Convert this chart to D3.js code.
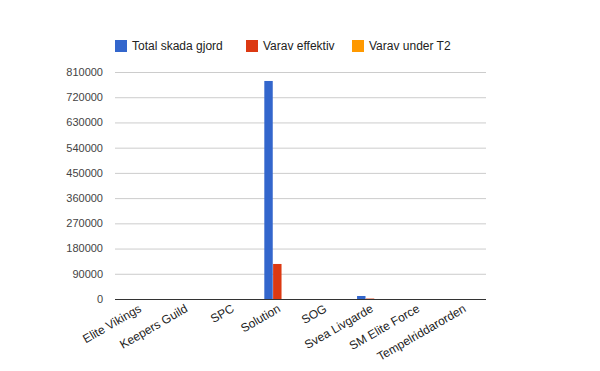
<!DOCTYPE html>
<html>
<head>
<meta charset="utf-8">
<script src="https://cdn.jsdelivr.net/npm/d3@7"></script>
<style>
  body { margin: 0; background: #fff; }
  svg { display: block; font-family: Arial, "Liberation Sans", sans-serif; }
</style>
</head>
<body>
<div id="chart"></div>
<script>
const guilds = ['Elite Vikings', 'Keepers Guild', 'SPC', 'Solution', 'SOG', 'Svea Livgarde', 'SM Elite Force', 'Tempelriddarorden'];
const seriesNames = ['Total skada gjord', 'Varav effektiv', 'Varav under T2'];
const totalDamage = [0, 0, 0, 778000, 0, 10700, 0, 0];
const effectiveDamage = [0, 0, 0, 125000, 0, 1500, 0, 0];
const underT2Damage = [0, 0, 0, 0, 0, 0, 0, 0];
const yTicks = [0, 90000, 180000, 270000, 360000, 450000, 540000, 630000, 720000, 810000];
const colors = ['#3366cc', '#dc3912', '#ff9900'];

const width = 600;
const height = 371;
const plot = { left: 115, right: 486, top: 72, bottom: 299 };

const svg = d3.select('#chart').append('svg')
  .attr('width', width)
  .attr('height', height);

const x = d3.scaleBand()
  .domain(guilds)
  .range([plot.left, plot.right]);

const xInner = d3.scaleBand()
  .domain(seriesNames)
  .range([0, 26])
  .paddingInner(0.04);

const y = d3.scaleLinear()
  .domain([0, 810000])
  .range([plot.bottom, plot.top]);

// gridlines
svg.append('g')
  .selectAll('line')
  .data(yTicks.slice(1))
  .join('line')
  .attr('x1', plot.left)
  .attr('x2', plot.right)
  .attr('y1', d => y(d) + 0.5)
  .attr('y2', d => y(d) + 0.5)
  .attr('stroke', '#cccccc');

// y labels
svg.append('g')
  .selectAll('text')
  .data(yTicks)
  .join('text')
  .attr('x', 103)
  .attr('y', d => y(d))
  .attr('dy', '0.35em')
  .attr('text-anchor', 'end')
  .attr('font-size', 11)
  .attr('fill', '#444')
  .text(d => d);

// bars
const series = [totalDamage, effectiveDamage, underT2Damage];
const rows = [];
guilds.forEach((g, i) => {
  seriesNames.forEach((s, j) => {
    rows.push({ guild: g, series: s, value: series[j][i], color: colors[j] });
  });
});

svg.append('g')
  .selectAll('rect')
  .data(rows.filter(d => d.value > 0))
  .join('rect')
  .attr('x', d => x(d.guild) + (x.bandwidth() - 26) / 2 + xInner(d.series))
  .attr('width', xInner.bandwidth())
  .attr('y', d => y(d.value))
  .attr('height', d => plot.bottom - y(d.value))
  .attr('fill', d => d.color);

// baseline
svg.append('line')
  .attr('x1', plot.left)
  .attr('x2', plot.right)
  .attr('y1', plot.bottom + 0.5)
  .attr('y2', plot.bottom + 0.5)
  .attr('stroke', '#333');

// x labels
svg.append('g')
  .selectAll('text')
  .data(guilds)
  .join('text')
  .attr('transform', d => `translate(${x(d) + x.bandwidth() / 2 + 4},${plot.bottom + 12}) rotate(-30)`)
  .attr('text-anchor', 'end')
  .attr('font-size', 12)
  .attr('fill', '#222')
  .text(d => d);

// legend
const legendX = [115, 246, 352];
const legend = svg.append('g')
  .selectAll('g')
  .data(seriesNames)
  .join('g')
  .attr('transform', (d, i) => `translate(${legendX[i]},40)`);

legend.append('rect')
  .attr('width', 12)
  .attr('height', 12)
  .attr('fill', (d, i) => colors[i]);

legend.append('text')
  .attr('x', 17)
  .attr('y', 6)
  .attr('dy', '0.35em')
  .attr('font-size', 12)
  .attr('fill', '#222')
  .text(d => d);
</script>
</body>
</html>
